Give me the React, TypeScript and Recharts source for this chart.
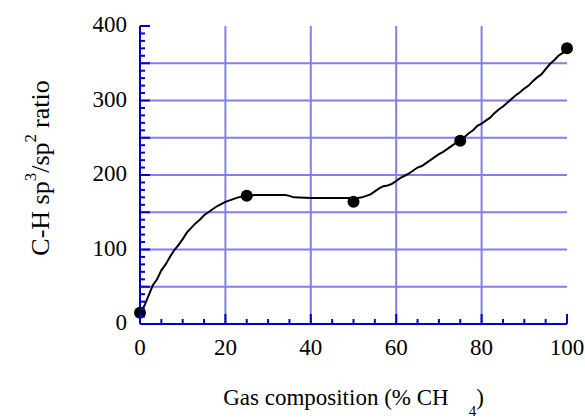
import React from "react";
import { ComposedChart, Line, Scatter, XAxis, YAxis, CartesianGrid, Label } from "recharts";

// measured points
const compX = [0, 25, 50, 75, 100];
const ratioY = [15, 172, 164, 246, 370];

// fitted curve
const curveX = [
  0, 1, 2, 3, 4, 5, 6, 7, 8, 9, 10, 11, 12, 13, 14, 15, 16, 17, 18, 19, 20,
  21, 22, 23, 24, 25, 27, 30, 34, 35, 36, 40, 45, 50, 51, 52, 53, 54, 55, 56,
  57, 58, 59, 60, 61, 62, 63, 64, 65, 66, 67, 68, 69, 70, 71, 72, 73, 74, 75,
  76, 77, 78, 79, 80, 81, 82, 83, 84, 85, 86, 87, 88, 89, 90, 91, 92, 93, 94,
  95, 96, 97, 98, 99, 100,
];
const curveY = [
  15, 24, 38, 52, 60, 72, 80, 90, 99, 106, 114, 123, 129, 135, 140, 146, 150,
  154, 158, 161, 164, 166, 168, 170, 171, 172, 173, 173, 173, 172, 170, 169,
  169, 169, 169, 170, 172, 174, 178, 182, 185, 186, 188, 192, 196, 199, 202,
  206, 210, 212, 216, 220, 224, 228, 231, 235, 239, 243, 247, 251, 256, 260,
  266, 269, 273, 277, 283, 288, 292, 297, 302, 307, 311, 316, 320, 326, 331,
  335, 342, 349, 354, 360, 364, 368,
];

const xTicks = [0, 5, 10, 15, 20, 25, 30, 35, 40, 45, 50, 55, 60, 65, 70, 75, 80, 85, 90, 95, 100];
const yTicks = [
  0, 10, 20, 30, 40, 50, 60, 70, 80, 90, 100, 110, 120, 130, 140, 150, 160, 170, 180, 190, 200,
  210, 220, 230, 240, 250, 260, 270, 280, 290, 300, 310, 320, 330, 340, 350, 360, 370, 380, 390, 400,
];
const xGrid = [20, 40, 60, 80];
const yGrid = [50, 100, 150, 200, 250, 300, 350];

const points = compX.map((x, i) => ({ x, y: ratioY[i] }));
const curve = curveX.map((x, i) => ({ x, y: curveY[i] }));

const AXIS = "#0000cc";
const GRID = "#8080e8";
const FONT = "Liberation Serif, Times New Roman, serif";
const txt = { fontFamily: FONT };

const BottomTick = (props: any) => {
  const { x, y, payload } = props;
  const v = payload.value;
  const major = v % 20 === 0;
  return (
    <g>
      <line x1={x} x2={x} y1={y} y2={y - (major ? 10 : 5)} stroke={AXIS} strokeWidth={2} />
      {major && (
        <text x={x} y={y + 31} textAnchor="middle" fontSize={23} style={txt} fill="#000">
          {v}
        </text>
      )}
    </g>
  );
};

const TopTick = (props: any) => {
  const { x, y, payload } = props;
  const major = payload.value % 20 === 0;
  return <line x1={x} x2={x} y1={y} y2={y + (major ? 10 : 5)} stroke={AXIS} strokeWidth={2} />;
};

const LeftTick = (props: any) => {
  const { x, y, payload } = props;
  const v = payload.value;
  const major = v % 50 === 0;
  return (
    <g>
      <line x1={x} x2={x + (major ? 10 : 5)} y1={y} y2={y} stroke={AXIS} strokeWidth={2} />
      {v % 100 === 0 && (
        <text x={x - 13} y={y + 6} textAnchor="end" fontSize={23} style={txt} fill="#000">
          {v}
        </text>
      )}
    </g>
  );
};

const RightTick = (props: any) => {
  const { x, y, payload } = props;
  const major = payload.value % 50 === 0;
  return <line x1={x} x2={x - (major ? 10 : 5)} y1={y} y2={y} stroke={AXIS} strokeWidth={2} />;
};

const Dot = (props: any) => <circle cx={props.cx} cy={props.cy} r={6} fill="#000" />;

const XTitle = (props: any) => {
  const vb = props.viewBox;
  const cx = vb.x + vb.width / 2;
  return (
    <text x={cx} y={vb.y + 81} textAnchor="middle" fontSize={23} style={txt} fill="#000">
      <tspan>Gas composition (% CH</tspan>
      <tspan dx={20} dy={11} fontSize={15}>4</tspan>
      <tspan dy={-11}>)</tspan>
    </text>
  );
};

const YTitle = (props: any) => {
  const vb = props.viewBox;
  const bx = 49;
  const cy = vb.y + 142;
  return (
    <text
      x={bx}
      y={cy}
      transform={`rotate(-90, ${bx}, ${cy})`}
      textAnchor="middle"
      fontSize={26}
      style={txt}
      fill="#000"
    >
      <tspan>C-H sp</tspan>
      <tspan dy={-13} fontSize={17}>3</tspan>
      <tspan dy={13}>/sp</tspan>
      <tspan dy={-13} fontSize={17}>2</tspan>
      <tspan dy={13} dx={6}>ratio</tspan>
    </text>
  );
};

export default function App() {
  return (
    <div style={{ position: "absolute", left: 0, top: 0, width: 585, height: 418 }}>
      <ComposedChart
        width={585}
        height={418}
        margin={{ top: 26, right: 18, bottom: 0, left: 0 }}
        style={{ overflow: "visible" }}
      >
        <CartesianGrid
          horizontalValues={yGrid}
          verticalValues={xGrid}
          stroke={GRID}
          strokeWidth={2}
          strokeDasharray=""
        />
        <XAxis
          type="number"
          dataKey="x"
          domain={[0, 100]}
          ticks={xTicks}
          interval={0}
          height={94}
          tickSize={0}
          tickMargin={0}
          tickLine={false}
          axisLine={{ stroke: AXIS, strokeWidth: 2 }}
          tick={<BottomTick />}
        >
          <Label content={<XTitle />} />
        </XAxis>
        <XAxis
          xAxisId="top"
          orientation="top"
          type="number"
          dataKey="x"
          domain={[0, 100]}
          ticks={xTicks}
          interval={0}
          height={0}
          tickSize={0}
          tickMargin={0}
          tickLine={false}
          axisLine={{ stroke: AXIS, strokeWidth: 2 }}
          tick={<TopTick />}
        />
        <YAxis
          type="number"
          domain={[0, 400]}
          ticks={yTicks}
          interval={0}
          width={140}
          tickSize={0}
          tickMargin={0}
          tickLine={false}
          axisLine={{ stroke: AXIS, strokeWidth: 2 }}
          tick={<LeftTick />}
        >
          <Label content={<YTitle />} />
        </YAxis>
        <YAxis
          yAxisId="right"
          orientation="right"
          type="number"
          domain={[0, 400]}
          ticks={yTicks}
          interval={0}
          width={0}
          tickSize={0}
          tickMargin={0}
          tickLine={false}
          axisLine={{ stroke: AXIS, strokeWidth: 2 }}
          tick={<RightTick />}
        />
        <Line
          data={curve}
          dataKey="y"
          type="linear"
          stroke="#000"
          strokeWidth={2}
          dot={false}
          isAnimationActive={false}
        />
        <Scatter data={points} dataKey="y" fill="#000" shape={<Dot />} isAnimationActive={false} />
      </ComposedChart>
    </div>
  );
}
